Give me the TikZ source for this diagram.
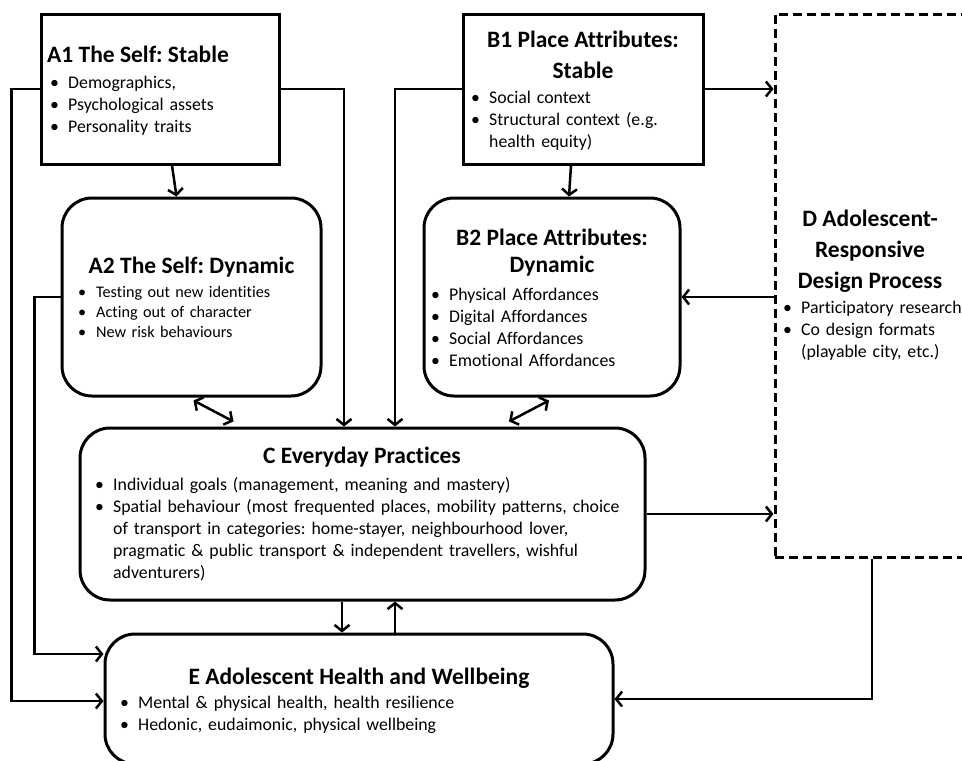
\documentclass[tikz,border=0pt]{standalone}
\usepackage{fontspec}
\setmainfont{Carlito}[Ligatures=NoCommon]
\usetikzlibrary{arrows.meta,calc}
\newcommand{\bl}{\makebox[18pt][l]{\textbullet}}
\newcommand{\ind}{\hspace*{18pt}}
\frenchspacing
\begin{document}
\begin{tikzpicture}[x=1pt,y=-1pt,
  sqbox/.style={draw,line width=3pt,inner sep=0pt},
  rbox/.style={draw,line width=3pt,inner sep=0pt,rounded corners=30pt},
  dbox/.style={draw,line width=3pt,inner sep=0pt,dash pattern=on 9pt off 5pt},
  ttl/.style={font=\fontsize{23.5}{28}\selectfont\bfseries,inner sep=0pt,anchor=base},
  txt/.style={font=\fontsize{17.8}{22}\selectfont,inner sep=0pt,anchor=base west,text width=#1,align=left},
  txs/.style={font=\fontsize{16.2}{20}\selectfont,inner sep=0pt,anchor=base west,text width=#1,align=left},
  con/.style={line width=2.5pt,-{Straight Barb[length=6pt,width=15pt]}},
  dcon/.style={line width=2.5pt,{Straight Barb[length=6pt,width=15pt]}-{Straight Barb[length=6pt,width=15pt]}}]
\useasboundingbox (0,0) rectangle (962,761);
\clip (0,0) rectangle (962,761);

% boxes
\node[sqbox,minimum width=238pt,minimum height=150pt] (A1) at (160,89) {};
\node[rbox,minimum width=259pt,minimum height=198pt] (A2) at (191.5,297) {};
\node[sqbox,minimum width=240pt,minimum height=150pt] (B1) at (583,89) {};
\node[rbox,minimum width=256pt,minimum height=198pt] (B2) at (552,297) {};
\node[rbox,minimum width=565pt,minimum height=172pt] (C) at (362.5,514) {};
\node[rbox,minimum width=508pt,minimum height=130pt] (E) at (359,699) {};
\node[dbox,minimum width=225pt,minimum height=543pt] (D) at (887.5,285.5) {};

% texts
\node[ttl,anchor=base west] (A1t) at (47,62) {A1 The Self: Stable};
\node[txt=220pt] (A1b) at (50,88) {\bl Demographics,\\\bl Psychological assets\\\bl Personality traits};

\node[ttl] (A2t) at (191.5,273) {A2 The Self: Dynamic};
\node[txs=240pt] (A2b) at (78,297) {\bl Testing out new identities\\\bl Acting out of character\\\bl New risk behaviours};

\node[ttl] (B1t) at (583,47) {B1 Place Attributes:};
\node[ttl] (B1u) at (583,78) {Stable};
\node[txt=225pt] (B1b) at (471,103) {\bl Social context\\\bl Structural context (e.g.\\\ind health equity)};

\node[ttl] (B2t) at (552,245) {B2 Place Attributes:};
\node[ttl] (B2u) at (552,272) {Dynamic};
\node[txt=240pt] (B2b) at (431,300) {\bl Physical Affordances\\\bl Digital Affordances\\\bl Social Affordances\\\bl Emotional Affordances};

\node[ttl] (Dt) at (870,226) {D Adolescent-};
\node[ttl] (Du) at (870,257) {Responsive};
\node[ttl] (Dv) at (870,288) {Design Process};
\node[txt=200pt] (Db) at (783,313) {\bl Participatory research\\\bl Co design formats\\\ind (playable city, etc.)};

\node[ttl] (Ct) at (362,463) {C Everyday Practices};
\node[txt=545pt] (Cb) at (95,490) {\bl Individual goals (management, meaning and mastery)\\\bl Spatial behaviour (most frequented places, mobility patterns, choice\\\ind of transport in categories: home-stayer, neighbourhood lover,\\\ind pragmatic \& public transport \& independent travellers, wishful\\\ind adventurers)};

\node[ttl] (Et) at (359,684) {E Adolescent Health and Wellbeing};
\node[txt=480pt] (Eb) at (120,708) {\bl Mental \& physical health, health resilience\\\bl Hedonic, eudaimonic, physical wellbeing};

% connectors
\draw[con] (A1.west) -- ++(-28,0) |- ($(E.west)+(0,2)$);
\draw[con] (A2.west) -- ++(-26,0) |- ($(E.west)+(0,-45)$);
\draw[con] (A1.east) -| ($(C.north)+(-18.5,0)$);
\draw[con] (B1.west) -| ($(C.north)+(32.5,0)$);
\draw[con] (B1.east) -- (B1.east -| D.west);
\draw[con] (D.west |- B2.east) -- (B2.east);
\draw[con] (C.east) -- (C.east -| D.west);
\draw[con] ($(D.south)+(-15.5,0)$) |- (E.east);
\draw[con] ($(A1.south)+(12,0)$) -- ($(A2.north)+(-15,0)$);
\draw[con] ($(B1.south)+(-12,0)$) -- ($(B2.north)+(17,0)$);
\draw[dcon] ($(A2.south)+(2,3)$) -- ($(C.north)+(-129,-5)$);
\draw[dcon] ($(B2.south)+(-3,3)$) -- ($(C.north)+(146.5,-5)$);
\draw[con] ($(C.south)+(-20.5,0)$) -- ($(E.north)+(-17,0)$);
\draw[con] ($(E.north)+(36,0)$) -- ($(C.south)+(32.5,0)$);
\end{tikzpicture}
\end{document}
